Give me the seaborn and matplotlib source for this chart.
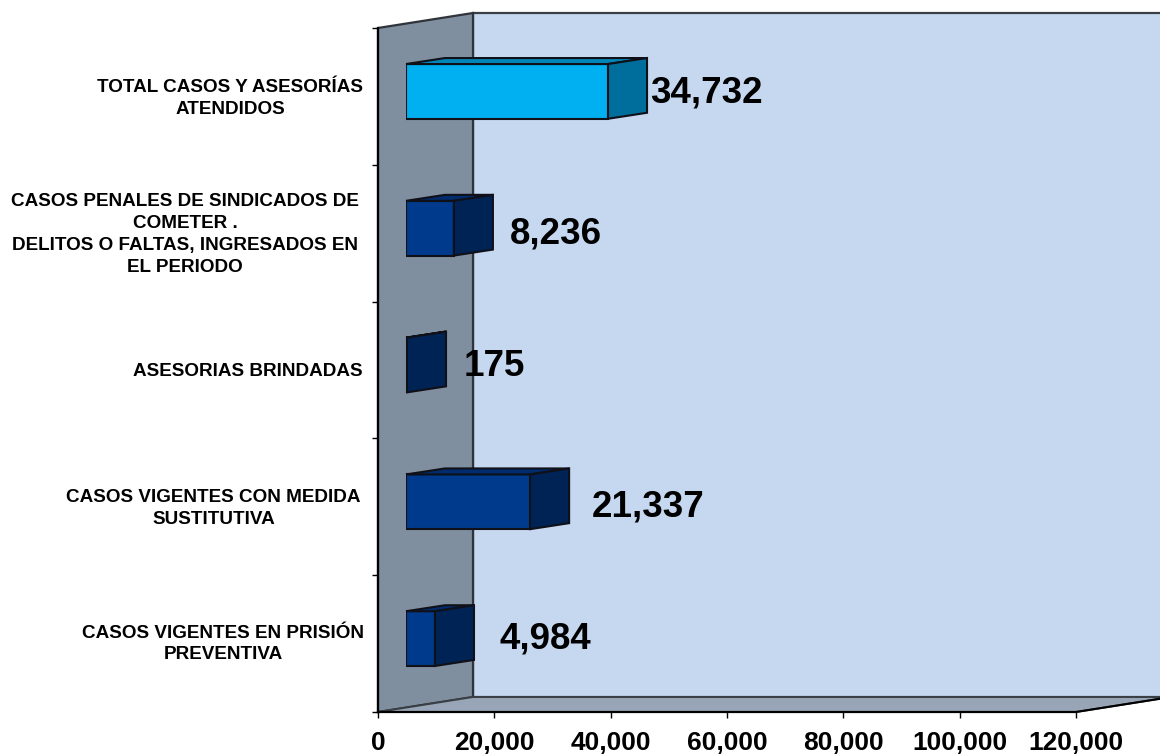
import matplotlib
matplotlib.use('Agg')
import matplotlib.pyplot as plt
import seaborn as sns
from matplotlib.patches import Polygon
from matplotlib.transforms import ScaledTranslation

# Datos
categorias = [
    'TOTAL CASOS Y ASESORÍAS\nATENDIDOS',
    'CASOS PENALES DE SINDICADOS DE\nCOMETER .\nDELITOS O FALTAS, INGRESADOS EN\nEL PERIODO',
    'ASESORIAS BRINDADAS',
    'CASOS VIGENTES CON MEDIDA\nSUSTITUTIVA',
    'CASOS VIGENTES EN PRISIÓN\nPREVENTIVA',
]
valores = [34732, 8236, 175, 21337, 4984]
ticks_x = [0, 20000, 40000, 60000, 80000, 100000, 120000]

# Colores de cada cara de las barras
color_frente = ['#00B0F0', '#003A8C', '#003A8C', '#003A8C', '#003A8C']
color_lado = ['#006E9C', '#002356', '#002356', '#002356', '#002356']
color_techo = ['#0085B8', '#002C6E', '#002C6E', '#002C6E', '#002C6E']
# ajustes finos de las etiquetas (px)
sep_etiqueta = [3, 17, 18, 23, 26]
baja_etiqueta = [2, 6, 2, 5, 0]
baja_categoria = [3, 2, 4, 2, 1]
corre_categoria = [0, -4, 0, -2, 1]

ANCHO, ALTO = 1160, 755
X0, X1, Y0, Y1 = 378, 1076, 28, 712   # caja frontal en pixeles
DX, DY = 95, 15                       # profundidad de la caja
BX, BY = 39, 6                        # profundidad de la barra
BORDE = '#101018'

sns.set_theme(style='white')
plt.rcParams['font.family'] = ['Liberation Sans', 'DejaVu Sans']
plt.rcParams['font.weight'] = 'bold'


def caja(x0, x1, y0, y1):
    return [x0 / ANCHO, 1 - y1 / ALTO, (x1 - x0) / ANCHO, (y1 - y0) / ALTO]


fig = plt.figure(figsize=(ANCHO / 100, ALTO / 100), dpi=100, facecolor='white')

# Fondo: paredes y piso
fondo = fig.add_axes([0, 0, 1, 1], zorder=0)
fondo.set_xlim(0, ANCHO)
fondo.set_ylim(ALTO, 0)
fondo.axis('off')
extra = ANCHO + 40
fondo.add_patch(Polygon([(X0 + DX, Y0 - DY), (extra, Y0 - DY), (extra, Y1 - DY), (X0 + DX, Y1 - DY)],
                        fc='#C6D7F0', ec='#3A3F45', lw=1.6))
fondo.add_patch(Polygon([(X0, Y0), (X0 + DX, Y0 - DY), (X0 + DX, Y1 - DY), (X0, Y1)],
                        fc='#7F8FA0', ec='#30343A', lw=1.6))
fondo.add_patch(Polygon([(X0, Y1), (X0 + DX, Y1 - DY), (X1 + DX, Y1 - DY), (X1, Y1)],
                        fc='#98A5B6', ec='#3A3F45', lw=1.4))
fondo.plot([X1, X1 + DX], [Y1, Y1 - DY], color='black', lw=1.5)

# Ejes de la caja
ax = fig.add_axes(caja(X0, X1, Y0, Y1), zorder=1)
ax.patch.set_alpha(0)
ax.set_xlim(0, 120000)
ax.set_ylim(5, 0)
ax.set_xticks(ticks_x)
ax.set_xticklabels([f'{t:,}' for t in ticks_x], fontsize=19, fontweight='bold', color='black')
ax.set_yticks(range(6))
ax.set_yticklabels([])
ax.tick_params(axis='both', length=4.5, width=1, color='black', bottom=True, left=True, pad=9.5)
sns.despine(ax=ax, top=True, right=True)
for lado in ['left', 'bottom']:
    ax.spines[lado].set_color('black')
    ax.spines[lado].set_linewidth(1.6)

# Barras, desplazadas dentro de la caja
ax_bar = fig.add_axes(caja(X0 + 28, X1 + 28, Y0 - 5, Y1 - 5), zorder=2)
ax_bar.patch.set_alpha(0)
sns.barplot(x=valores, y=categorias, hue=categorias, palette=color_frente, legend=False,
            width=0.4, edgecolor=BORDE, linewidth=1.5, saturation=1, ax=ax_bar)
ax_bar.set_xlim(0, 120000)
ax_bar.set_ylim(4.5, -0.5)
ax_bar.set_xticks([])
ax_bar.set_xlabel('')
ax_bar.set_ylabel('')
sns.despine(ax=ax_bar, left=True, bottom=True)
ax_bar.tick_params(axis='y', length=0, pad=31)
for i, t in enumerate(ax_bar.get_yticklabels()):
    t.set_fontsize(13.6)
    t.set_fontweight('bold')
    t.set_color('black')
    t.set_multialignment('center')
    t.set_linespacing(1.37)
    t.set_transform(t.get_transform() + ScaledTranslation(corre_categoria[i] / 100, -baja_categoria[i] / 100,
                                                          fig.dpi_scale_trans))

# Caras laterales y superiores de cada barra
prof_x = BX / (X1 - X0) * 120000
prof_y = BY / (Y1 - Y0) * 5
barras = sorted(ax_bar.patches, key=lambda p: p.get_y())
for i, p in enumerate(barras):
    v = valores[i]
    y_arr = p.get_y()
    y_abj = y_arr + p.get_height()
    ax_bar.add_patch(Polygon([(0, y_arr), (prof_x, y_arr - prof_y), (v + prof_x, y_arr - prof_y), (v, y_arr)],
                             fc=color_techo[i], ec=BORDE, lw=1.5, clip_on=False))
    ax_bar.add_patch(Polygon([(v, y_arr), (v + prof_x, y_arr - prof_y), (v + prof_x, y_abj - prof_y), (v, y_abj)],
                             fc=color_lado[i], ec=BORDE, lw=1.5, clip_on=False))
    ax_bar.annotate(f'{v:,}', xy=(v + prof_x, (y_arr + y_abj) / 2),
                    xytext=(sep_etiqueta[i] * 0.72, -baja_etiqueta[i] * 0.72),
                    textcoords='offset points', ha='left', va='center', fontsize=26.5,
                    fontweight='bold', color='black', annotation_clip=False, zorder=5)

fig.savefig('out.png', dpi=100)
